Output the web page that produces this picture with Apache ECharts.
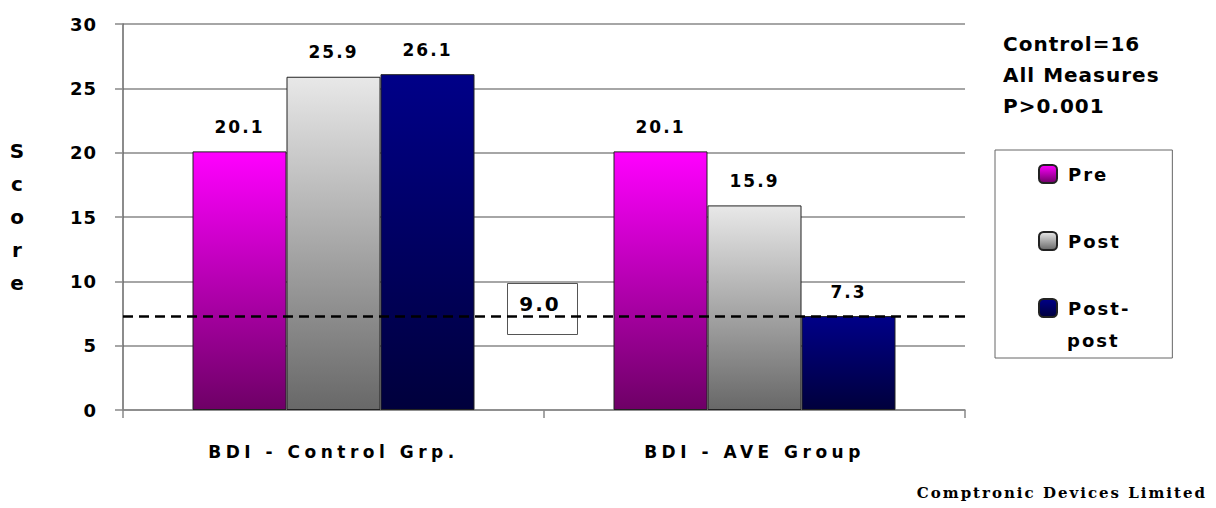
<!DOCTYPE html>
<html>
<head>
<meta charset="utf-8">
<script src="https://cdn.jsdelivr.net/npm/echarts@6/dist/echarts.min.js"></script>
<style>
html,body{margin:0;padding:0;background:#fff;}
#chart{width:1216px;height:508px;}
#chart text[style*="ls1"]{letter-spacing:1px;}
#chart text[style*="ls2"]{letter-spacing:2px;}
#chart text[style*="ls4"]{letter-spacing:4.5px;}
</style>
</head>
<body>
<div id="chart"></div>
<script>
var categories = ['BDI - Control Grp.', 'BDI - AVE Group'];
var seriesNames = ['Pre', 'Post', 'Post-post'];
var preValues = [20.1, 20.1];
var postValues = [25.9, 15.9];
var postPostValues = [26.1, 7.3];
var thresholdValue = 7.3;
var boxLabel = '9.0';
var yTicks = [0, 5, 10, 15, 20, 25, 30];
var noteLines = ['Control=16', 'All Measures', 'P>0.001'];
var footerText = 'Comptronic Devices Limited';

function grad(top, bottom) {
  return new echarts.graphic.LinearGradient(0, 0, 0, 1, [
    {offset: 0, color: top}, {offset: 1, color: bottom}
  ]);
}

var chart = echarts.init(document.getElementById('chart'), null, {renderer: 'svg'});
var labelStyle = {
  show: true, position: 'top', distance: 16,
  color: '#000', fontWeight: 'bold', fontSize: 17, fontFamily: 'ls2, DejaVu Sans'
};
function barSeries(name, data, top, bottom) {
  return {
    name: name, type: 'bar', data: data,
    barWidth: 94, barGap: '0%',
    itemStyle: {color: grad(top, bottom), borderColor: '#222', borderWidth: 1},
    label: labelStyle,
    emphasis: {disabled: true}
  };
}
var s3 = barSeries(seriesNames[2], postPostValues, '#000088', '#00003c');
s3.markLine = {
  silent: true, symbol: 'none',
  lineStyle: {color: '#000', type: [10, 6], width: 2.5},
  label: {show: false},
  data: [{yAxis: thresholdValue}],
  z: 10
};

chart.setOption({
  animation: false,
  backgroundColor: '#fff',
  grid: {left: 123, right: 251, top: 24, bottom: 98},
  xAxis: {
    type: 'category', data: categories,
    axisLine: {show: true, lineStyle: {color: '#888', width: 1.5}},
    axisTick: {show: true, length: 8, lineStyle: {color: '#888', width: 1.5}},
    axisLabel: {margin: 33, color: '#000', fontWeight: 'bold', fontSize: 17, fontFamily: 'ls4, DejaVu Sans'}
  },
  yAxis: {
    type: 'value', min: yTicks[0], max: yTicks[yTicks.length - 1], interval: 5,
    name: 'S\nc\no\nr\ne', nameLocation: 'middle', nameRotate: 0, nameGap: 106,
    nameTextStyle: {color: '#000', fontWeight: 'bold', fontSize: 20, lineHeight: 33, align: 'center', fontFamily: 'DejaVu Sans'},
    axisLine: {show: true, lineStyle: {color: '#666', width: 1.5}},
    axisTick: {show: true, length: 8, lineStyle: {color: '#888', width: 1.5}},
    splitLine: {show: true, lineStyle: {color: '#888', width: 1.5}},
    axisLabel: {margin: 26, color: '#000', fontWeight: 'bold', fontSize: 18, fontFamily: 'ls1, DejaVu Sans'}
  },
  legend: {
    data: seriesNames,
    orient: 'vertical', left: 995, top: 150,
    padding: [14, 52, 40, 43],
    itemWidth: 18, itemHeight: 18, itemGap: 47,
    borderColor: '#666', borderWidth: 1,
    selectedMode: false,
    formatter: function (n) { return n === 'Post-post' ? 'Post-' : n; },
    textStyle: {color: '#000', fontWeight: 'bold', fontSize: 18, lineHeight: 20, fontFamily: 'ls2, DejaVu Sans', padding: [0, 0, 0, 6]}
  },
  series: [
    barSeries(seriesNames[0], preValues, '#ff00ff', '#6e0066'),
    barSeries(seriesNames[1], postValues, '#e8e8e8', '#686868'),
    s3
  ],
  graphic: [
    {type: 'rect', left: 505, top: 281, shape: {width: 70, height: 51}, style: {fill: 'none', stroke: '#555', lineWidth: 1}, z: 5},
    {type: 'text', x: 540, y: 304, style: {text: boxLabel, align: 'center', verticalAlign: 'middle', fill: '#000', font: 'bold 20px ls2, DejaVu Sans'}, z: 5},
    {type: 'text', x: 1003, y: 28, style: {text: noteLines.join('\n'), fill: '#000', font: 'bold 20px ls1, DejaVu Sans', lineHeight: 31}},
    {type: 'text', x: 1067, y: 340, style: {text: 'post', verticalAlign: 'middle', fill: '#000', font: 'bold 18px ls2, DejaVu Sans'}},
    {type: 'text', x: 1207, y: 493, style: {text: footerText, align: 'right', verticalAlign: 'middle', fill: '#000', font: 'bold 15px ls2, DejaVu Serif'}}
  ]
});
</script>
</body>
</html>
